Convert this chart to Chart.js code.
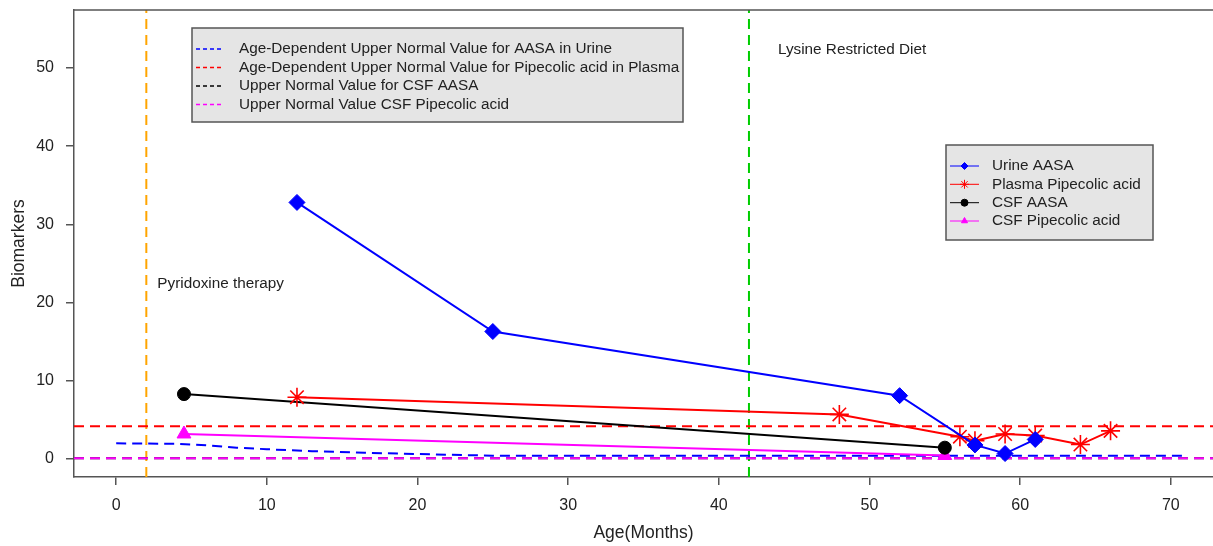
<!DOCTYPE html>
<html>
<head>
<meta charset="utf-8">
<script src="https://cdn.jsdelivr.net/npm/chart.js@4/dist/chart.umd.min.js"></script>
<style>
  html, body { margin: 0; padding: 0; background: #fff; }
  #wrap { position: relative; width: 1213px; height: 546px; }
</style>
</head>
<body>
<div id="wrap"><canvas id="biomarkerChart"></canvas></div>
<script>
// edad (meses) y valor de cada biomarcador
const urineAasaAge = [12, 25, 52, 57, 59, 61];
const urineAasa    = [32.8, 16.3, 8.1, 1.8, 0.7, 2.5];
const plasmaPipAge = [12, 48, 56, 57, 59, 61, 64, 66];
const plasmaPip    = [7.9, 5.7, 2.85, 2.35, 3.2, 3.0, 1.85, 3.6];
const csfAasaAge   = [4.5, 55];
const csfAasa      = [8.3, 1.45];
const csfPipAge    = [4.5, 55];
const csfPip       = [3.2, 0.45];

// valores normales superiores
const urineLimitAge = [0, 4, 6, 8, 10, 13, 16.5, 21, 25, 71];
const urineLimit    = [2.0, 1.95, 1.75, 1.45, 1.25, 1.0, 0.8, 0.6, 0.42, 0.42];
const plasmaLimit   = 4.2;
const csfAasaLimit  = 0.1;
const csfPipLimit   = 0.1;

// eventos del tratamiento
const eventAge    = [2, 42];
const eventLabels = ['Pyridoxine therapy', 'Lysine Restricted Diet'];

// ejes
const xTicks = [0, 10, 20, 30, 40, 50, 60, 70];
const yTicks = [0, 10, 20, 30, 40, 50];
const xMin = -2.8, xMax = 72.8;
const yMin = -2.3, yMax = 57.4;

const seriesNames = ['Urine AASA', 'Plasma Pipecolic acid', 'CSF AASA', 'CSF Pipecolic acid'];
const limitNames = [
    'Age-Dependent Upper Normal Value for AASA in Urine',
    'Age-Dependent Upper Normal Value for Pipecolic acid in Plasma',
    'Upper Normal Value for CSF AASA',
    'Upper Normal Value CSF Pipecolic acid'
];

const FONT = "'Liberation Sans', Arial, sans-serif";
const TEXT = '#222';
const AXIS = '#555';

const zip = (xs, ys) => xs.map((x, i) => ({ x: x, y: ys[i] }));
const hline = v => [{ x: xMin, y: v }, { x: xMax, y: v }];
const vline = v => [{ x: v, y: yMin }, { x: v, y: yMax }];

const dashed = (label, data, color, order) => ({
    label, data, borderColor: color, backgroundColor: color,
    borderWidth: 2, borderDash: [10, 6], pointRadius: 0,
    showLine: true, order
});

// leyendas, borde superior estilo R y anotaciones
const rPlotExtras = {
    id: 'rPlotExtras',
    afterDraw(chart) {
        const { ctx, chartArea: a, scales } = chart;
        ctx.save();

        // borde superior (el derecho queda fuera de la imagen)
        ctx.strokeStyle = AXIS;
        ctx.lineWidth = 1.5;
        ctx.setLineDash([]);
        ctx.beginPath();
        ctx.moveTo(a.left, a.top);
        ctx.lineTo(a.right, a.top);
        ctx.stroke();

        // textos de los eventos
        ctx.fillStyle = TEXT;
        ctx.font = '15.3px ' + FONT;
        ctx.textBaseline = 'middle';
        ctx.textAlign = 'left';
        ctx.fillText(eventLabels[0], scales.x.getPixelForValue(eventAge[0]) + 11, scales.y.getPixelForValue(22.4));
        ctx.fillText(eventLabels[1], scales.x.getPixelForValue(eventAge[1]) + 29, scales.y.getPixelForValue(52.3));

        // leyenda 1: límites normales
        const limitColors = ['#0000ff', '#ff0000', '#000000', '#ff00ff'];
        ctx.fillStyle = '#e5e5e5';
        ctx.fillRect(192, 28, 491, 94);
        ctx.strokeStyle = AXIS;
        ctx.lineWidth = 1.5;
        ctx.strokeRect(192, 28, 491, 94);
        const rows1 = [49, 67.5, 86, 104.5];
        limitNames.forEach((name, i) => {
            ctx.strokeStyle = limitColors[i];
            ctx.lineWidth = 1.5;
            ctx.setLineDash([4, 3]);
            ctx.beginPath();
            ctx.moveTo(196, rows1[i]);
            ctx.lineTo(224, rows1[i]);
            ctx.stroke();
            ctx.setLineDash([]);
            ctx.fillStyle = TEXT;
            ctx.fillText(name, 239, rows1[i]);
        });

        // leyenda 2: series
        const ds = chart.data.datasets;
        ctx.fillStyle = '#e5e5e5';
        ctx.fillRect(946, 145, 207, 95);
        ctx.strokeStyle = AXIS;
        ctx.lineWidth = 1.5;
        ctx.strokeRect(946, 145, 207, 95);
        const rows2 = [166, 184.3, 202.7, 221];
        seriesNames.forEach((name, i) => {
            const d = ds[i];
            ctx.strokeStyle = d.borderColor;
            ctx.fillStyle = d.borderColor;
            ctx.lineWidth = 1;
            ctx.beginPath();
            ctx.moveTo(950, rows2[i]);
            ctx.lineTo(979, rows2[i]);
            ctx.stroke();
            Chart.helpers.drawPoint(ctx, {
                pointStyle: d.pointStyle, radius: d.pointStyle === 'star' ? 4.5 : 3.5,
                rotation: 0, borderWidth: 1
            }, 964.5, rows2[i]);
            ctx.fillStyle = TEXT;
            ctx.fillText(name, 992, rows2[i]);
        });

        ctx.restore();
    }
};

new Chart(document.getElementById('biomarkerChart').getContext('2d'), {
    type: 'scatter',
    data: {
        datasets: [
            {
                label: seriesNames[0], data: zip(urineAasaAge, urineAasa),
                borderColor: '#0000ff', backgroundColor: '#0000ff', borderWidth: 2,
                pointStyle: 'rectRot', pointRadius: 8, pointBorderWidth: 1,
                showLine: true, order: 1
            },
            {
                label: seriesNames[1], data: zip(plasmaPipAge, plasmaPip),
                borderColor: '#ff0000', backgroundColor: '#ff0000', borderWidth: 2,
                pointStyle: 'star', pointRadius: 9.5, pointBorderWidth: 1.6,
                showLine: true, order: 2
            },
            {
                label: seriesNames[2], data: zip(csfAasaAge, csfAasa),
                borderColor: '#000000', backgroundColor: '#000000', borderWidth: 2,
                pointStyle: 'circle', pointRadius: 6.5, pointBorderWidth: 1,
                showLine: true, order: 3
            },
            {
                label: seriesNames[3], data: zip(csfPipAge, csfPip),
                borderColor: '#ff00ff', backgroundColor: '#ff00ff', borderWidth: 2,
                pointStyle: 'triangle', pointRadius: 8, pointBorderWidth: 1,
                showLine: true, order: 4
            },
            dashed(limitNames[0], zip(urineLimitAge, urineLimit), '#0000ff', 10),
            dashed(limitNames[1], hline(plasmaLimit), '#ff0000', 11),
            dashed(limitNames[3], hline(csfPipLimit), '#ff00ff', 12),
            dashed(limitNames[2], hline(csfAasaLimit), '#000000', 13),
            dashed(eventLabels[0], vline(eventAge[0]), '#ffa500', 14),
            dashed(eventLabels[1], vline(eventAge[1]), '#00cd00', 15)
        ]
    },
    options: {
        responsive: true,
        maintainAspectRatio: false,
        animation: false,
        layout: { autoPadding: false, padding: { top: 10, right: 0, left: 0, bottom: 0 } },
        plugins: {
            legend: { display: false },
            tooltip: { enabled: false }
        },
        scales: {
            x: {
                type: 'linear', min: xMin, max: xMax,
                afterBuildTicks: s => { s.ticks = xTicks.map(v => ({ value: v })); },
                afterFit: s => { s.height = 69; s.paddingLeft = 0; s.paddingRight = 0; },
                grid: { drawOnChartArea: false, drawTicks: true, tickLength: 8, color: AXIS, lineWidth: 1.5 },
                border: { display: true, color: AXIS, width: 1.5 },
                ticks: { color: TEXT, font: { family: FONT, size: 16 }, padding: 11, maxRotation: 0 },
                title: { display: true, text: 'Age(Months)', color: TEXT, font: { family: FONT, size: 17.5 }, padding: { top: 0, bottom: 2 } }
            },
            y: {
                type: 'linear', min: yMin, max: yMax,
                afterBuildTicks: s => { s.ticks = yTicks.map(v => ({ value: v })); },
                afterFit: s => { s.width = 74; s.paddingTop = 0; s.paddingBottom = 0; },
                grid: { drawOnChartArea: false, drawTicks: true, tickLength: 8, color: AXIS, lineWidth: 1.5 },
                border: { display: true, color: AXIS, width: 1.5 },
                ticks: { color: TEXT, font: { family: FONT, size: 16 }, padding: 12 },
                title: { display: true, text: 'Biomarkers', color: TEXT, font: { family: FONT, size: 17.5 }, padding: { top: 9, bottom: 0 } }
            }
        }
    },
    plugins: [rPlotExtras]
});
</script>
</body>
</html>
